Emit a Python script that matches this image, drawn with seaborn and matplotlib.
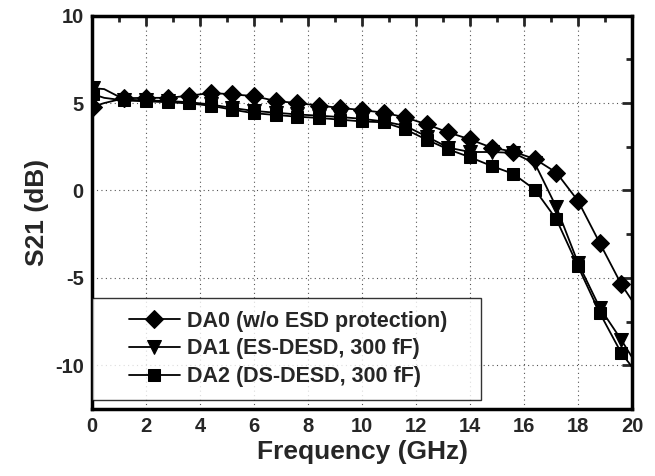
import numpy as np
import pandas as pd
import matplotlib
matplotlib.use("Agg")
import matplotlib.pyplot as plt
import seaborn as sns
from matplotlib.ticker import MultipleLocator
from matplotlib.legend_handler import HandlerLine2D

sns.set_style("white")
plt.rcParams['font.family'] = ['Liberation Sans', 'DejaVu Sans']
plt.rcParams['font.weight'] = 'bold'
plt.rcParams['axes.unicode_minus'] = False

# frequency points (GHz); markers every 0.8 GHz, plus a few unmarked points
freq = [0.05, 0.45, 1.2, 2.0, 2.8, 3.6, 4.4, 5.2, 6.0, 6.8, 7.6, 8.4, 9.2, 10.0,
        10.8, 11.6, 12.4, 13.2, 14.0, 14.8, 15.6, 16.4, 17.2, 18.0, 18.8, 19.6, 20.0]

da0 = [4.8, 5.0, 5.28, 5.3, 5.3, 5.42, 5.58, 5.5, 5.4, 5.12, 5.0, 4.86, 4.72, 4.6,
       4.45, 4.18, 3.78, 3.32, 2.92, 2.45, 2.22, 1.8, 1.02, -0.6, -3.0, -5.37, -6.3]
da1 = [5.85, 5.8, 5.2, 5.15, 5.12, 5.05, 4.92, 4.72, 4.55, 4.45, 4.35, 4.28, 4.2, 4.1,
       3.95, 3.7, 3.08, 2.45, 2.2, 2.2, 2.15, 1.55, -0.97, -4.15, -6.7, -8.55, -9.55]
da2 = [5.5, 5.3, 5.15, 5.1, 5.05, 4.98, 4.85, 4.62, 4.42, 4.32, 4.22, 4.15, 4.05, 3.95,
       3.9, 3.5, 2.9, 2.35, 1.9, 1.4, 0.95, 0.05, -1.66, -4.35, -7.0, -9.3, -10.1]

labels = ['DA0 (w/o ESD protection)', 'DA1 (ES-DESD, 300 fF)', 'DA2 (DS-DESD, 300 fF)']
marks = ['D', 'v', 's']
sizes = [9.5, 9.5, 8]

df = pd.DataFrame({'freq': freq, labels[0]: da0, labels[1]: da1, labels[2]: da2})
mark_idx = [i for i in range(len(freq)) if i not in (1, len(freq) - 1)]

fig = plt.figure(figsize=(6.55, 4.76), dpi=100)
ax = fig.add_axes([0.1405, 0.141, 0.8245, 0.826])

for lab, m, s in zip(labels, marks, sizes):
    sns.lineplot(data=df, x='freq', y=lab, ax=ax, color='black', lw=1.3,
                 marker=m, markersize=s, markevery=mark_idx, label=lab,
                 markeredgecolor='black', markerfacecolor='black')

ax.set_xlim(0, 20)
ax.set_ylim(-12.5, 10)
ax.xaxis.set_major_locator(MultipleLocator(2))
ax.xaxis.set_minor_locator(MultipleLocator(1))
ax.yaxis.set_major_locator(MultipleLocator(5))
ax.yaxis.set_minor_locator(MultipleLocator(2.5))
ax.grid(True, which='major', ls=(0, (1, 3)), color='#555555', lw=0.8)
ax.set_axisbelow(True)

ax.tick_params(which='both', direction='in', top=True, right=True, width=2,
               labelsize=14.5, pad=6)
ax.tick_params(which='major', length=7)
ax.tick_params(which='minor', length=4)
for sp in ax.spines.values():
    sp.set_linewidth(2.5)
    sp.set_color('black')
for t in ax.get_xticklabels() + ax.get_yticklabels():
    t.set_fontweight('bold')

ax.set_xlabel('Frequency (GHz)', fontsize=19, fontweight='bold', labelpad=3)
ax.set_ylabel('S21 (dB)', fontsize=19, fontweight='bold', labelpad=4)

hmap = {h: HandlerLine2D(xpad=1.1) for h in ax.get_lines()}
leg = ax.legend(loc='lower left', bbox_to_anchor=(0.0, 0.022, 0.72, 0.2),
                mode='expand', fontsize=15.5, handler_map=hmap,
                frameon=True, fancybox=False, edgecolor='black', handlelength=3.5,
                borderpad=0.6, labelspacing=0.32, handletextpad=0.33,
                borderaxespad=0)
leg.get_frame().set_linewidth(1.0)
for t in leg.get_texts():
    t.set_fontweight('bold')

fig.savefig('out.png', dpi=100)
